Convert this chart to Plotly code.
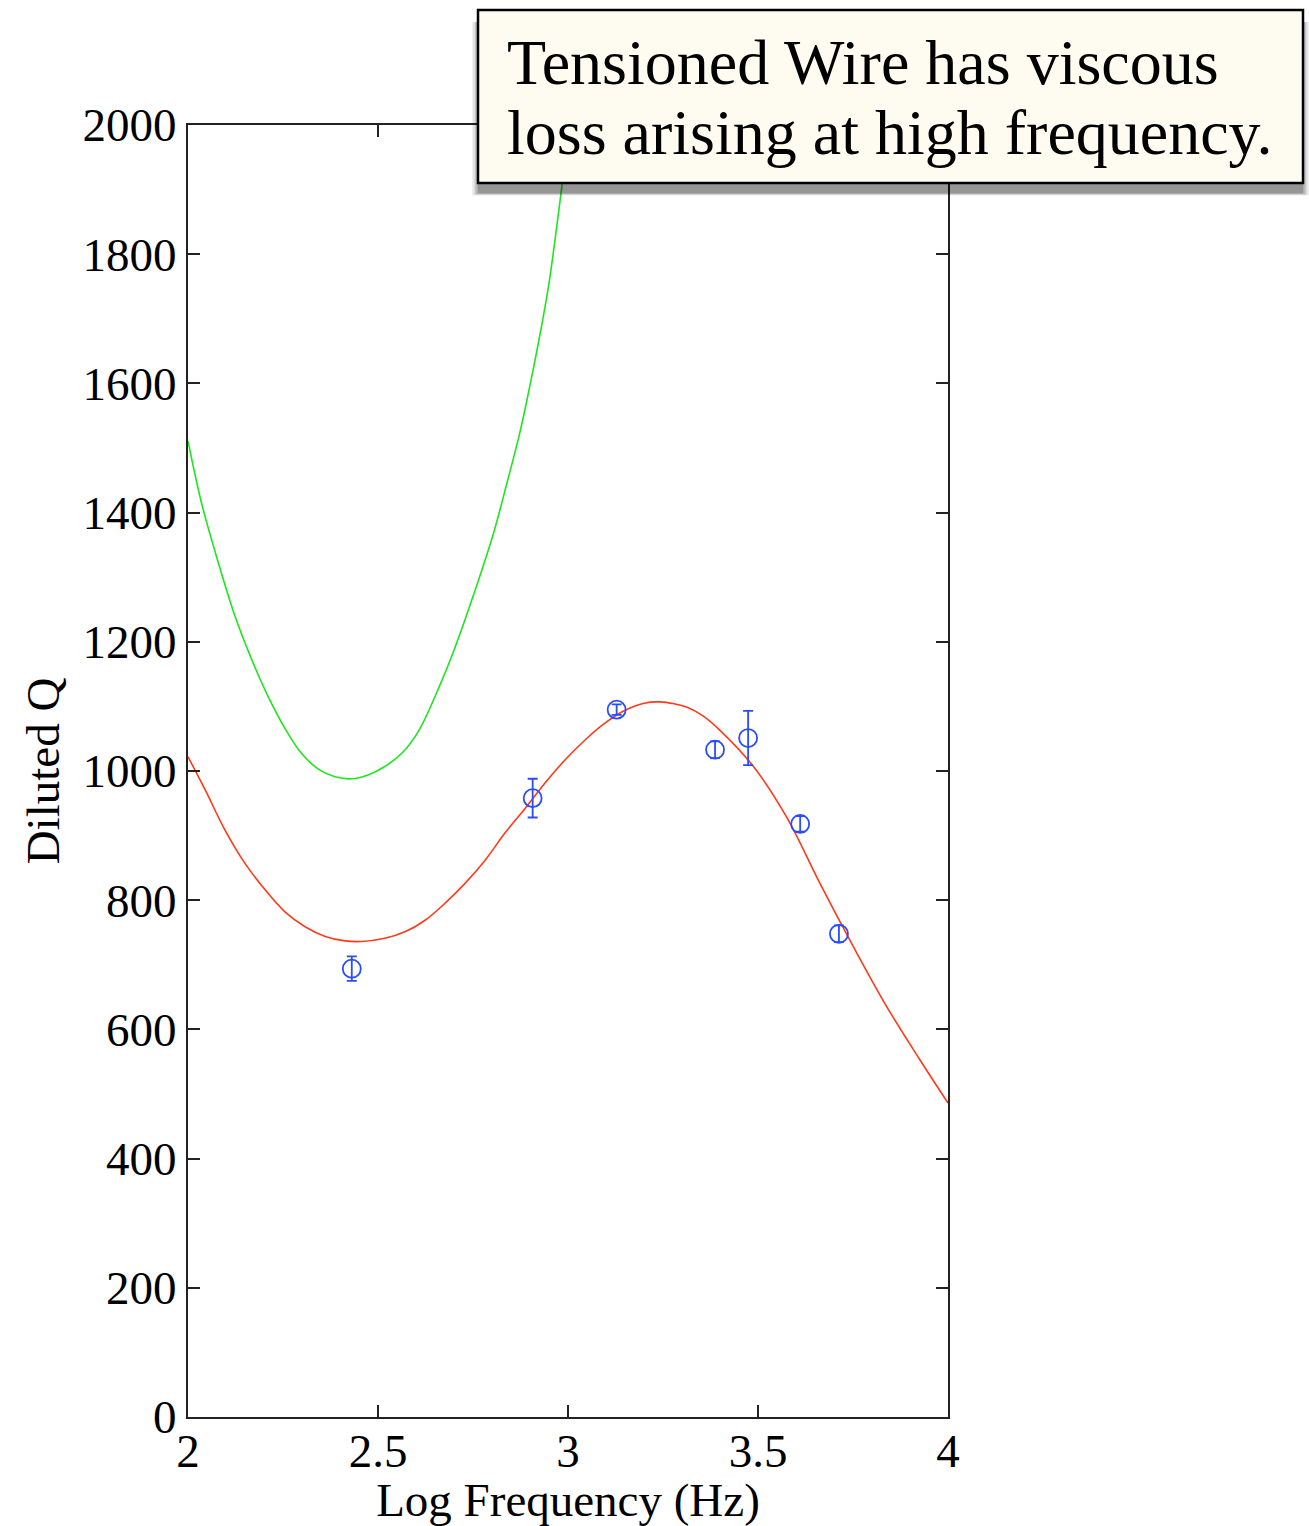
import plotly.graph_objects as go

# ---- data ----
meas_logf = [2.431, 2.907, 3.128, 3.387, 3.474, 3.611, 3.713]
meas_q = [694, 958, 1095, 1033, 1051, 918, 748]
meas_err = [19, 30, 8, 13, 42, 12, 13]

fit_logf = [2.0, 2.045, 2.097, 2.150, 2.203, 2.255, 2.308, 2.361, 2.413, 2.457,
            2.518, 2.571, 2.624, 2.676, 2.729, 2.782, 2.834, 2.887, 2.939, 2.992,
            3.045, 3.097, 3.150, 3.200, 3.242, 3.280, 3.312, 3.356, 3.400, 3.488,
            3.575, 3.663, 3.751, 3.839, 3.926, 4.0]
fit_q = [1022, 971, 909, 857, 816, 782, 759, 744, 737, 736,
         741, 751, 769, 795, 826, 862, 904, 942, 981, 1017,
         1048, 1074, 1094, 1105, 1107, 1104, 1099, 1085, 1063, 1007,
         929, 826, 728, 635, 553, 486]

tens_logf = [2.0, 2.036, 2.080, 2.124, 2.168, 2.211, 2.255, 2.299, 2.343, 2.387,
             2.431, 2.474, 2.518, 2.562, 2.606, 2.663, 2.700, 2.762, 2.804, 2.839,
             2.873, 2.901, 2.927, 2.950, 2.968, 2.985, 3.004]
tens_q = [1511, 1414, 1322, 1239, 1172, 1115, 1066, 1027, 1003, 991,
          988, 994, 1007, 1027, 1061, 1133, 1187, 1291, 1368, 1445,
          1523, 1600, 1678, 1755, 1832, 1910, 2000]

x_ticks = [2, 2.5, 3, 3.5, 4]
x_ticklabels = ["2", "2.5", "3", "3.5", "4"]
y_ticks = [0, 200, 400, 600, 800, 1000, 1200, 1400, 1600, 1800, 2000]

note_lines = ["Tensioned Wire has viscous", "loss arising at high frequency."]

# ---- layout geometry ----
W, H = 1309, 1526
L, R, T, B = 188, 948, 125, 1417

def px_x(p):
    return (p - L) / (R - L)

def px_y(p):
    return (B - p) / (B - T)

FONT = "Liberation Serif, Times New Roman, serif"

fig = go.Figure()

fig.add_trace(go.Scatter(
    x=tens_logf, y=tens_q, mode="lines",
    line=dict(color="#1ee61e", width=1.6, shape="spline", smoothing=1.0, simplify=False),
    showlegend=False, hoverinfo="skip"))

fig.add_trace(go.Scatter(
    x=fit_logf, y=fit_q, mode="lines",
    line=dict(color="#ff3a1a", width=1.6, shape="spline", smoothing=1.0, simplify=False),
    showlegend=False, hoverinfo="skip"))

fig.add_trace(go.Scatter(
    x=meas_logf, y=meas_q, mode="markers",
    marker=dict(symbol="circle-open", size=18, color="#2a4bff", line=dict(width=1.8, color="#2a4bff")),
    error_y=dict(type="data", array=meas_err, visible=True, color="#2a4bff", thickness=1.8, width=5),
    showlegend=False))

axis_common = dict(
    showgrid=False, zeroline=False, showline=True, linecolor="#222222", linewidth=2,
    mirror="ticks", ticks="inside", ticklen=12, tickwidth=1.5, tickcolor="#222222",
    tickfont=dict(family=FONT, size=47, color="black"),
)

fig.update_layout(
    width=W, height=H,
    margin=dict(l=L, r=W - R, t=T, b=H - B, autoexpand=False),
    paper_bgcolor="white", plot_bgcolor="white",
    xaxis=dict(range=[2, 4], tickvals=x_ticks, ticktext=x_ticklabels, ticklabelstandoff=-8,
               title=dict(text="Log Frequency (Hz)", font=dict(family=FONT, size=47, color="black"), standoff=12),
               **axis_common),
    yaxis=dict(range=[0, 2000], tickvals=y_ticks,
               title=dict(text="Diluted Q", font=dict(family=FONT, size=47, color="black"), standoff=8),
               **axis_common),
)

# ---- callout box with drop shadow ----
bx0, bx1, by0, by1 = 478, 1303, 10, 183
shapes = []
for i, op in enumerate([0.06, 0.08, 0.10, 0.12, 0.14]):
    g = 9 - i * 1.5
    shapes.append(dict(type="rect", xref="paper", yref="paper", layer="above",
                       x0=px_x(bx0 - g + 3), x1=px_x(bx1 + g - 3),
                       y0=px_y(by1 + 9 + g * 0.4), y1=px_y(by0 + 12),
                       line=dict(width=0), fillcolor=f"rgba(0,0,0,{op})"))
shapes.append(dict(type="rect", xref="paper", yref="paper", layer="above",
                   x0=px_x(bx0), x1=px_x(bx1), y0=px_y(by1), y1=px_y(by0),
                   line=dict(color="black", width=2.5), fillcolor="#fefcf0"))
fig.update_layout(shapes=shapes)

for txt, cy in zip(note_lines, [63, 133]):
    fig.add_annotation(xref="paper", yref="paper", x=px_x(505), y=px_y(cy),
                       xanchor="left", yanchor="middle", showarrow=False, text=txt,
                       font=dict(family=FONT, size=64, color="black"))

fig.write_html("out.html")
